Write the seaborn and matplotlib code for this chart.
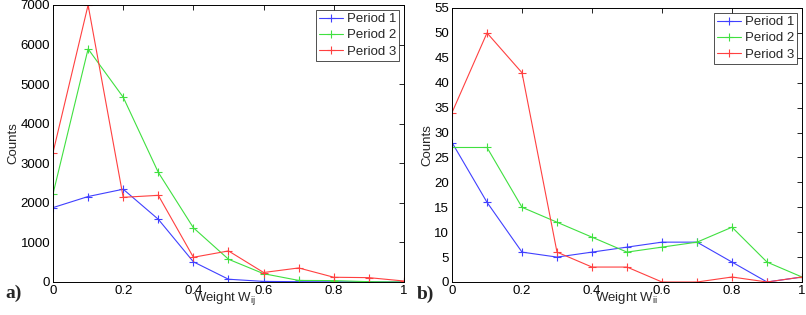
import numpy as np
import pandas as pd
import matplotlib
matplotlib.use("Agg")
import matplotlib.pyplot as plt
import seaborn as sns

# Datos
weights = [0.0, 0.1, 0.2, 0.3, 0.4, 0.5, 0.6, 0.7, 0.8, 0.9, 1.0]

# a) pesos W_ij
a_period1 = [1880, 2160, 2345, 1585, 510, 70, 15, 8, 6, 4, 0]
a_period2 = [2225, 5890, 4670, 2770, 1370, 575, 210, 40, 35, 8, 0]
a_period3 = [3270, 7000, 2140, 2190, 625, 785, 240, 355, 120, 110, 25]

# b) pesos W_ii
b_period1 = [28, 16, 6, 5, 6, 7, 8, 8, 4, 0, 1]
b_period2 = [27, 27, 15, 12, 9, 6, 7, 8, 11, 4, 1]
b_period3 = [34, 50, 42, 6, 3, 3, 0, 0, 1, 0, 1]

periods = ["Period 1", "Period 2", "Period 3"]
colores = ["#4040ff", "#40e040", "#ff4040"]

sns.set_style("white")
plt.rcParams['font.family'] = ['Liberation Sans', 'DejaVu Sans']
plt.rcParams['font.size'] = 9
plt.rcParams['xtick.direction'] = 'in'
plt.rcParams['ytick.direction'] = 'in'
plt.rcParams['xtick.top'] = True
plt.rcParams['ytick.right'] = True


def panel(ax, series, ymax, ystep, xlabel, xlab_x, ylab_x):
    df = pd.DataFrame({
        "w": weights * 3,
        "count": series[0] + series[1] + series[2],
        "period": [p for p in periods for _ in weights],
    })
    sns.lineplot(data=df, x="w", y="count", hue="period", palette=colores,
                 marker="+", markersize=5.5, linewidth=0.8, legend=False, ax=ax)
    # los "+" de seaborn salen con borde blanco, los pinto del color de la linea
    for ln in ax.lines:
        ln.set_markeredgecolor(ln.get_color())
        ln.set_markeredgewidth(0.8)
    ax.set_xlim(0, 1)
    ax.set_ylim(0, ymax)
    ax.set_xticks([0, 0.2, 0.4, 0.6, 0.8, 1])
    ax.set_xticklabels(["0", "0.2", "0.4", "0.6", "0.8", "1"])
    ax.set_yticks(np.arange(0, ymax + 1, ystep))
    ax.tick_params(length=3.5, width=0.6, colors='black', labelsize=9.5, pad=2)
    for s in ax.spines.values():
        s.set_color('black')
        s.set_linewidth(0.7)
    ax.set_xlabel(xlabel, fontsize=9.5, va='top')
    ax.xaxis.set_label_coords(xlab_x, -0.03)
    ax.set_ylabel("Counts", fontsize=9.5, va='center')
    ax.yaxis.set_label_coords(ylab_x, 0.5)
    leg = ax.legend(ax.lines[:3], periods, loc="upper right", fontsize=9.5,
                    frameon=True, fancybox=False, borderaxespad=0.35,
                    handlelength=1.8, borderpad=0.25, labelspacing=0.3,
                    handletextpad=0.3)
    leg.get_frame().set_edgecolor('black')
    leg.get_frame().set_linewidth(0.6)


fig = plt.figure(figsize=(8.06, 3.15), dpi=100)
ax1 = fig.add_axes([53 / 806, 33 / 315, 351 / 806, 277 / 315])
ax2 = fig.add_axes([452 / 806, 33 / 315, 350 / 806, 274 / 315])

panel(ax1, [a_period1, a_period2, a_period3], 7000, 1000,
      r"Weight W$_\mathregular{ij}$", 0.49, -0.114)
panel(ax2, [b_period1, b_period2, b_period3], 55, 5,
      r"Weight W$_\mathregular{ii}$", 0.5, -0.071)

fig.text(5 / 806, 1 - 293 / 315, "a)", fontsize=14, fontweight='bold',
         family='Liberation Serif', va='center')
fig.text(417 / 806, 1 - 294 / 315, "b)", fontsize=14, fontweight='bold',
         family='Liberation Serif', va='center')

fig.savefig("out.png", dpi=100)
